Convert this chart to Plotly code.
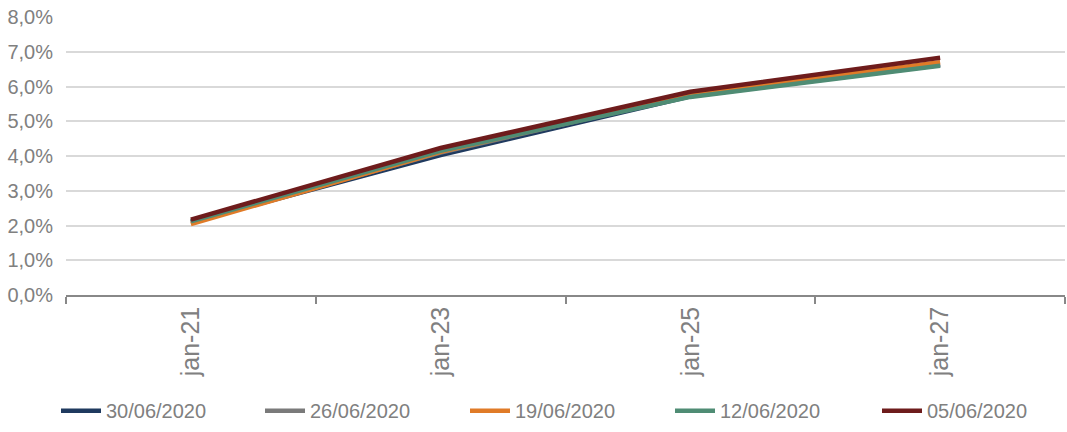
import plotly.graph_objects as go

categories = ["jan-21", "jan-23", "jan-25", "jan-27"]
series_names = ["30/06/2020", "26/06/2020", "19/06/2020", "12/06/2020", "05/06/2020"]
s_30_06 = [0.0210, 0.0403, 0.0572, 0.0662]
s_26_06 = [0.0210, 0.0410, 0.0575, 0.0665]
s_19_06 = [0.0204, 0.0412, 0.0578, 0.0670]
s_12_06 = [0.0212, 0.0415, 0.0570, 0.0660]
s_05_06 = [0.0217, 0.0423, 0.0585, 0.0683]
colors = ["#1f3a5f", "#7a7a7a", "#e07b28", "#4f8c74", "#6e1c1c"]

values = [s_30_06, s_26_06, s_19_06, s_12_06, s_05_06]
font_family = "Liberation Sans, Arial, sans-serif"

fig = go.Figure()
legend_ids = ["legend", "legend2", "legend3", "legend4", "legend5"]
for name, vals, col, lid in zip(series_names, values, colors, legend_ids):
    fig.add_trace(go.Scatter(x=categories, y=vals, name=name, mode="lines",
                             line=dict(color=col, width=4.5), legend=lid))

legend_px = [56, 260, 465, 670, 877]
legend_cfg = {}
for lid, px in zip(legend_ids, legend_px):
    legend_cfg[lid] = dict(orientation="h", x=(px - 66) / 999, xanchor="left",
                           y=-0.416, yanchor="middle",
                           font=dict(size=20, color="#808080"),
                           itemwidth=40, bgcolor="rgba(0,0,0,0)")

fig.update_layout(
    width=1067, height=432,
    margin=dict(l=66, r=2, t=17, b=134),
    paper_bgcolor="white", plot_bgcolor="white",
    separators=",.",
    font=dict(family=font_family, color="#808080", size=20),
    showlegend=True,
    **legend_cfg,
)
fig.update_xaxes(type="category", range=[-0.5, 3.5], tickson="boundaries",
                 ticks="outside", ticklen=7, tickcolor="#888888", tickwidth=1.5,
                 showline=True, linecolor="#888888", linewidth=1.5, automargin=False,
                 showgrid=False, tickangle=-90, tickfont=dict(size=25, color="#808080"))
fig.update_yaxes(range=[0, 0.08], dtick=0.01, tickformat=".1%", automargin=False,
                 showgrid=True, gridcolor="#d9d9d9", gridwidth=2,
                 zeroline=False, showline=False, ticks="", ticklabelstandoff=12,
                 tickfont=dict(size=20, color="#808080"))

fig.write_html("out.html")
